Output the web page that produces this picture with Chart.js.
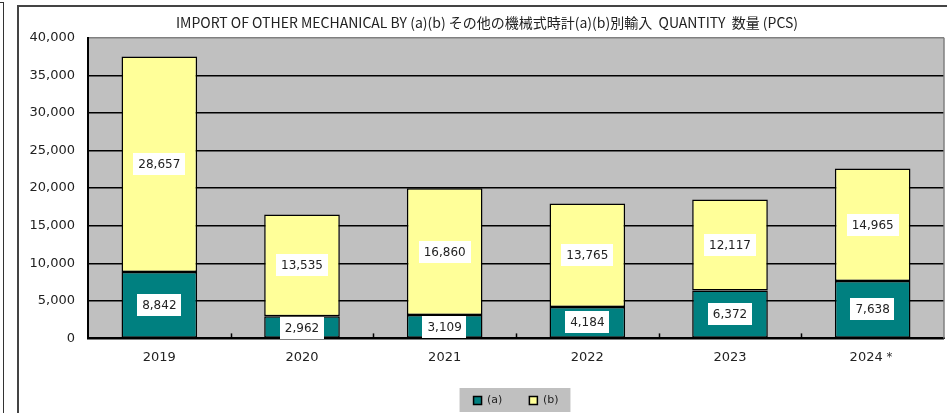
<!DOCTYPE html>
<html>
<head>
<meta charset="utf-8">
<script src="https://cdn.jsdelivr.net/npm/chart.js@4"></script>
<style>
  html, body { margin: 0; padding: 0; background: #fff; overflow: hidden; }
  #wrap { position: relative; width: 947px; height: 413px; }
  #prev { position: absolute; left: -10px; top: 2px; width: 13px; height: 420px; border-top: 1px solid #333; border-right: 1px solid #333; }
  #frame { position: absolute; left: 17px; top: 5px; width: 960px; height: 420px; border-top: 2px solid #444; border-left: 2px solid #444; }
  canvas { position: absolute; left: 0; top: 0; }
</style>
</head>
<body>
<div id="wrap">
  <div id="prev"></div>
  <div id="frame"></div>
  <canvas id="importChart" width="947" height="413"></canvas>
</div>
<script>
const years = ['2019', '2020', '2021', '2022', '2023', '2024＊'];
const seriesA = [8842, 2962, 3109, 4184, 6372, 7638];
const seriesB = [28657, 13535, 16860, 13765, 12117, 14965];
const yTicks = [0, 5000, 10000, 15000, 20000, 25000, 30000, 35000, 40000];

const fmt = v => v.toLocaleString('en-US');

// gray plot background
const plotBg = {
    id: 'plotBg',
    beforeDraw(chart) {
        const a = chart.chartArea, c = chart.ctx;
        c.save();
        c.fillStyle = '#C0C0C0';
        c.fillRect(a.left, a.top, a.right - a.left, a.bottom - a.top);
        c.restore();
    }
};

// small tick marks between categories, pointing up
const catTicks = {
    id: 'catTicks',
    afterDatasetsDraw(chart) {
        const x = chart.scales.x, a = chart.chartArea, c = chart.ctx;
        const step = x.getPixelForValue(1) - x.getPixelForValue(0);
        c.save();
        c.strokeStyle = '#000';
        c.lineWidth = 1.5;
        for (let i = 0; i < years.length - 1; i++) {
            const px = Math.round(x.getPixelForValue(i) + step / 2) + 0.5;
            c.beginPath();
            c.moveTo(px, a.bottom);
            c.lineTo(px, a.bottom - 5);
            c.stroke();
        }
        // right border of plot
        c.strokeStyle = '#808080';
        c.lineWidth = 1.5;
        c.beginPath();
        c.moveTo(a.right, a.top);
        c.lineTo(a.right, a.bottom);
        c.stroke();
        c.restore();
    }
};

// value labels in white boxes
const valueLabels = {
    id: 'valueLabels',
    afterDatasetsDraw(chart) {
        const c = chart.ctx;
        c.save();
        c.font = '12px "DejaVu Sans", Arial, sans-serif';
        c.textAlign = 'center';
        c.textBaseline = 'middle';
        chart.data.datasets.forEach((ds, di) => {
            chart.getDatasetMeta(di).data.forEach((bar, i) => {
                const txt = fmt(ds.data[i]);
                const cy = (bar.y + bar.base) / 2 + (di === 0 && ds.data[i] < 3500 ? 1 : 0);
                const w = c.measureText(txt).width + 10;
                c.fillStyle = '#fff';
                c.fillRect(Math.round(bar.x - w / 2), Math.round(cy - 11), Math.round(w), 22);
                c.fillStyle = '#222';
                c.fillText(txt, bar.x, cy + 1);
            });
        });
        c.restore();
    }
};

// gray box behind legend
const legendBg = {
    id: 'legendBg',
    beforeDraw(chart) {
        const boxes = chart.legend && chart.legend.legendHitBoxes;
        if (!boxes || !boxes.length) return;
        const l = Math.min(...boxes.map(b => b.left)) - 14;
        const r = Math.max(...boxes.map(b => b.left + b.width)) + 12;
        const t = boxes[0].top - 7;
        const c = chart.ctx;
        c.save();
        c.fillStyle = '#C0C0C0';
        c.fillRect(l, t, r - l, 24);
        c.restore();
    }
};

const ctx = document.getElementById('importChart').getContext('2d');
const importChart = new Chart(ctx, {
    type: 'bar',
    data: {
        labels: years,
        datasets: [{
            label: '(a)',
            data: seriesA,
            backgroundColor: '#008080',
            borderColor: '#000',
            borderWidth: 1.5,
            borderSkipped: false
        }, {
            label: '(b)',
            data: seriesB,
            backgroundColor: '#FFFF99',
            borderColor: '#000',
            borderWidth: 1.5,
            borderSkipped: false
        }]
    },
    plugins: [plotBg, legendBg, catTicks, valueLabels],
    options: {
        responsive: false,
        animation: false,
        layout: { padding: { left: 30, right: 3, top: 0, bottom: -3 } },
        datasets: {
            bar: { categoryPercentage: 1, barPercentage: 0.53 }
        },
        scales: {
            x: {
                stacked: true,
                grid: { display: false },
                border: { color: '#000', width: 2 },
                ticks: {
                    color: '#222',
                    font: { size: 13, family: '"DejaVu Sans", Arial, sans-serif' },
                    padding: 3
                }
            },
            y: {
                stacked: true,
                min: 0,
                max: 40000,
                afterFit(scale) { scale.width = 58; },
                afterBuildTicks(scale) { scale.ticks = yTicks.map(v => ({ value: v })); },
                grid: {
                    color: ctx => ctx.tick && ctx.tick.value === 40000 ? '#808080' : '#000',
                    lineWidth: 1.5,
                    drawTicks: false
                },
                border: { color: '#000', width: 2 },
                ticks: {
                    color: '#222',
                    padding: 13,
                    font: { size: 13, family: '"DejaVu Sans", Arial, sans-serif' },
                    callback: v => fmt(v)
                }
            }
        },
        plugins: {
            title: {
                display: true,
                text: 'IMPORT OF OTHER MECHANICAL BY (a)(b) その他の機械式時計(a)(b)別輸入  QUANTITY  数量 (PCS)',
                color: '#222',
                font: { size: 14, weight: 'normal', family: '"Noto Sans CJK JP", sans-serif' },
                padding: { top: 14, bottom: 7 }
            },
            legend: {
                display: true,
                position: 'bottom',
                fullSize: false,
                labels: {
                    boxWidth: 8,
                    boxHeight: 8,
                    padding: 27,
                    color: '#222',
                    font: { size: 11, family: '"DejaVu Sans", Arial, sans-serif' }
                }
            },
            tooltip: { enabled: false }
        }
    }
});
</script>
</body>
</html>
